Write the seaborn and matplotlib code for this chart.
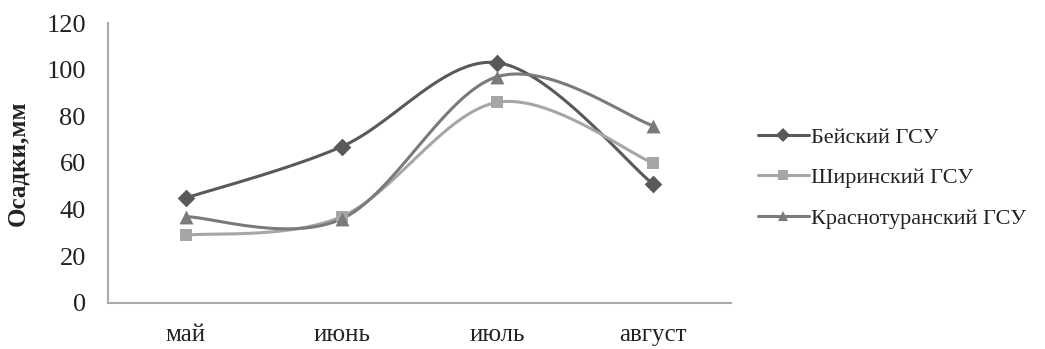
import numpy as np
import pandas as pd
import matplotlib
matplotlib.use("Agg")
import matplotlib.pyplot as plt
from matplotlib.lines import Line2D
import seaborn as sns

# Monthly precipitation, mm
months = ["май", "июнь", "июль", "август"]
beysky = [45, 67, 103, 51]
shirinsky = [29, 37, 86, 60]
krasnoturansky = [37, 36, 97, 76]
series_names = ["Бейский ГСУ", "Ширинский ГСУ", "Краснотуранский ГСУ"]
y_ticks = [0, 20, 40, 60, 80, 100, 120]

sns.set_theme(style="white")
plt.rcParams["font.family"] = ["Liberation Serif", "DejaVu Serif"]

colors = ["#595959", "#a6a6a6", "#7a7a7a"]
markers = ["D", "s", "^"]
msizes = [9, 9, 10]


def smooth(xs, ys, steps=40):
    """Catmull-Rom style cubic Bezier smoothing (tension 1/6)."""
    P = np.column_stack([xs, ys]).astype(float)
    n = len(P)
    out = []
    t = np.linspace(0, 1, steps)[:, None]
    for i in range(n - 1):
        p0 = P[i - 1] if i > 0 else P[i]
        p1, p2 = P[i], P[i + 1]
        p3 = P[i + 2] if i + 2 < n else P[i + 1]
        b1 = p1 + (p2 - p0) / 6
        b2 = p2 - (p3 - p1) / 6
        seg = ((1 - t) ** 3) * p1 + 3 * ((1 - t) ** 2) * t * b1 + 3 * (1 - t) * t ** 2 * b2 + t ** 3 * p2
        out.append(seg if i == 0 else seg[1:])
    c = np.vstack(out)
    return c[:, 0], c[:, 1]


fig = plt.figure(figsize=(10.45, 3.49), dpi=100)
ax = fig.add_axes([0.1034, 0.132, 0.596, 0.802])

xpos = np.arange(len(months))
all_series = [beysky, shirinsky, krasnoturansky]
handles = []
for vals, name, col, mk, ms in zip(all_series, series_names, colors, markers, msizes):
    sx, sy = smooth(xpos, vals)
    sns.lineplot(x=sx, y=sy, ax=ax, color=col, linewidth=2.2, sort=False,
                 estimator=None, legend=False)
    sns.scatterplot(x=xpos, y=vals, ax=ax, color=col, marker=mk, s=ms ** 2,
                    edgecolor=col, linewidth=0, legend=False, zorder=5)
    handles.append(Line2D([], [], color=col, linewidth=2.2, marker=mk,
                          markersize=ms * 0.75, markeredgewidth=0, label=name))

ax.set_xlim(-0.5, len(months) - 0.5)
ax.set_ylim(0, 120)
ax.set_xticks(xpos)
ax.set_xticklabels(months)
ax.set_yticks(y_ticks)
ax.tick_params(axis="both", length=0, colors="#222222")
ax.tick_params(axis="y", pad=16, labelsize=19)
ax.tick_params(axis="x", pad=15, labelsize=18)
ax.set_ylabel("Осадки,мм", fontsize=18, fontweight="bold", color="#222222", labelpad=12)

for side in ["top", "right"]:
    ax.spines[side].set_visible(False)
for side in ["left", "bottom"]:
    ax.spines[side].set_color("#aaaaaa")
    ax.spines[side].set_linewidth(1.5)

fig.legend(handles=handles, loc="center left", bbox_to_anchor=(0.706, 0.49),
           frameon=False, fontsize=16, handlelength=2.3, handletextpad=0.1,
           labelspacing=0.9, labelcolor="#222222")

fig.savefig("out.png", dpi=100)
